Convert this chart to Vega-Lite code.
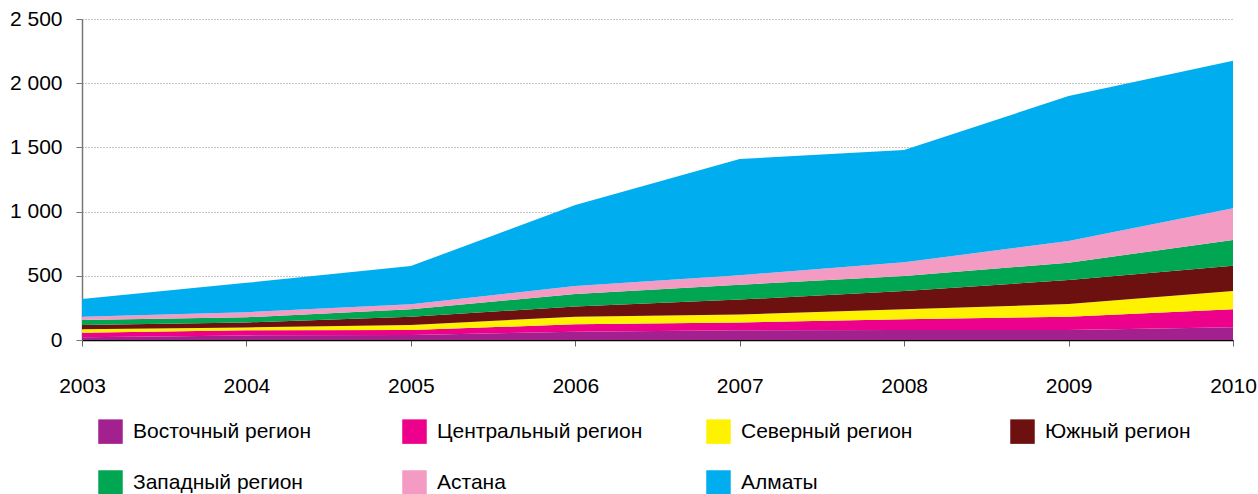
{
  "$schema": "https://vega.github.io/schema/vega-lite/v6.json",
  "width": 1151,
  "height": 321,
  "autosize": {"type": "none"},
  "padding": {"left": 82, "top": 19, "right": 25, "bottom": 154},
  "background": "white",
  "config": {
    "view": {"stroke": null},
    "font": "Liberation Sans"
  },
  "data": {
    "values": [
      {"year": 2003, "region": "Восточный регион", "value": 21},
      {"year": 2003, "region": "Центральный регион", "value": 36},
      {"year": 2003, "region": "Северный регион", "value": 26},
      {"year": 2003, "region": "Южный регион", "value": 34},
      {"year": 2003, "region": "Западный регион", "value": 39},
      {"year": 2003, "region": "Астана", "value": 25},
      {"year": 2003, "region": "Алматы", "value": 138},
      {"year": 2004, "region": "Восточный регион", "value": 36},
      {"year": 2004, "region": "Центральный регион", "value": 39},
      {"year": 2004, "region": "Северный регион", "value": 23},
      {"year": 2004, "region": "Южный регион", "value": 39},
      {"year": 2004, "region": "Западный регион", "value": 40},
      {"year": 2004, "region": "Астана", "value": 40},
      {"year": 2004, "region": "Алматы", "value": 228},
      {"year": 2005, "region": "Восточный регион", "value": 39},
      {"year": 2005, "region": "Центральный регион", "value": 39},
      {"year": 2005, "region": "Северный регион", "value": 39},
      {"year": 2005, "region": "Южный регион", "value": 65},
      {"year": 2005, "region": "Западный регион", "value": 57},
      {"year": 2005, "region": "Астана", "value": 39},
      {"year": 2005, "region": "Алматы", "value": 298},
      {"year": 2006, "region": "Восточный регион", "value": 65},
      {"year": 2006, "region": "Центральный регион", "value": 57},
      {"year": 2006, "region": "Северный регион", "value": 60},
      {"year": 2006, "region": "Южный регион", "value": 78},
      {"year": 2006, "region": "Западный регион", "value": 98},
      {"year": 2006, "region": "Астана", "value": 62},
      {"year": 2006, "region": "Алматы", "value": 631},
      {"year": 2007, "region": "Восточный регион", "value": 75},
      {"year": 2007, "region": "Центральный регион", "value": 62},
      {"year": 2007, "region": "Северный регион", "value": 61},
      {"year": 2007, "region": "Южный регион", "value": 117},
      {"year": 2007, "region": "Западный регион", "value": 115},
      {"year": 2007, "region": "Астана", "value": 75},
      {"year": 2007, "region": "Алматы", "value": 905},
      {"year": 2008, "region": "Восточный регион", "value": 78},
      {"year": 2008, "region": "Центральный регион", "value": 83},
      {"year": 2008, "region": "Северный регион", "value": 78},
      {"year": 2008, "region": "Южный регион", "value": 143},
      {"year": 2008, "region": "Западный регион", "value": 116},
      {"year": 2008, "region": "Астана", "value": 107},
      {"year": 2008, "region": "Алматы", "value": 875},
      {"year": 2009, "region": "Восточный регион", "value": 78},
      {"year": 2009, "region": "Центральный регион", "value": 104},
      {"year": 2009, "region": "Северный регион", "value": 98},
      {"year": 2009, "region": "Южный регион", "value": 187},
      {"year": 2009, "region": "Западный регион", "value": 135},
      {"year": 2009, "region": "Астана", "value": 169},
      {"year": 2009, "region": "Алматы", "value": 1129},
      {"year": 2010, "region": "Восточный регион", "value": 99},
      {"year": 2010, "region": "Центральный регион", "value": 140},
      {"year": 2010, "region": "Северный регион", "value": 143},
      {"year": 2010, "region": "Южный регион", "value": 197},
      {"year": 2010, "region": "Западный регион", "value": 200},
      {"year": 2010, "region": "Астана", "value": 247},
      {"year": 2010, "region": "Алматы", "value": 1149}
    ]
  },
  "transform": [
    {"calculate": "indexof(['Восточный регион', 'Центральный регион', 'Северный регион', 'Южный регион', 'Западный регион', 'Астана', 'Алматы'], datum.region)", "as": "stackOrder"}
  ],
  "mark": {"type": "area", "interpolate": "linear"},
  "encoding": {
    "x": {
      "field": "year",
      "type": "quantitative",
      "scale": {"domain": [2003, 2010], "nice": false, "zero": false},
      "axis": {
        "title": null,
        "values": [2003, 2004, 2005, 2006, 2007, 2008, 2009, 2010],
        "format": "d",
        "grid": false,
        "labelFlush": false,
        "labelBound": false,
        "domainColor": "#000000",
        "domainWidth": 1.5,
        "tickColor": "#666666",
        "tickSize": 6,
        "labelPadding": 29,
        "labelFontSize": 21,
        "labelColor": "#000000",
        "labelFont": "Liberation Sans"
      }
    },
    "y": {
      "field": "value",
      "type": "quantitative",
      "stack": "zero",
      "scale": {"domain": [0, 2500], "nice": false},
      "axis": {
        "title": null,
        "values": [0, 500, 1000, 1500, 2000, 2500],
        "labelExpr": "replace(format(datum.value, ','), ',', ' ')",
        "grid": true,
        "gridDash": [1, 2],
        "gridColor": "#888888",
        "gridWidth": 1,
        "domainColor": "#777777",
        "domainWidth": 1.5,
        "tickColor": "#777777",
        "tickSize": 6,
        "labelPadding": 14,
        "labelFontSize": 21,
        "labelColor": "#000000",
        "labelFont": "Liberation Sans"
      }
    },
    "color": {
      "field": "region",
      "type": "nominal",
      "scale": {
        "domain": ["Восточный регион", "Центральный регион", "Северный регион", "Южный регион", "Западный регион", "Астана", "Алматы"],
        "range": ["#A3218E", "#EC008C", "#FFF200", "#6D1010", "#00A651", "#F39BC3", "#00AEEF"]
      },
      "legend": {
        "title": null,
        "orient": "none",
        "legendX": 16,
        "legendY": 400,
        "direction": "horizontal",
        "columns": 4,
        "gridAlign": "all",
        "columnPadding": 63,
        "rowPadding": 26,
        "padding": 0,
        "symbolType": "square",
        "symbolSize": 600,
        "symbolStrokeWidth": 0,
        "symbolOpacity": 1,
        "labelFontSize": 21,
        "labelOffset": 10,
        "labelColor": "#000000",
        "labelFont": "Liberation Sans",
        "labelLimit": 400
      }
    },
    "order": {"field": "stackOrder", "type": "quantitative"}
  }
}
